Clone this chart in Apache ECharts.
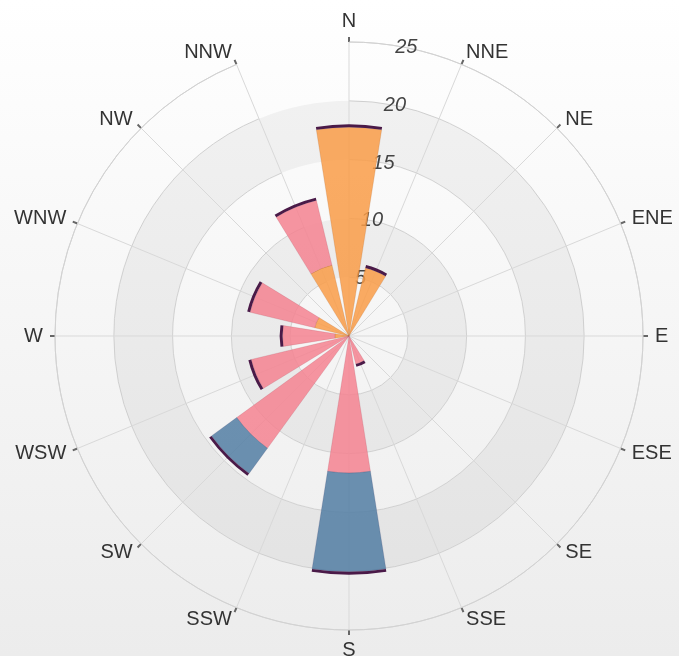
<!DOCTYPE html>
<html>
<head>
<meta charset="utf-8">
<script src="https://cdn.jsdelivr.net/npm/echarts@6/dist/echarts.min.js"></script>
<style>
html,body{margin:0;padding:0;}
#chart{width:679px;height:656px;}
</style>
</head>
<body>
<div id="chart"></div>
<script>
const directions = ['N','NNE','NE','ENE','E','ESE','SE','SSE','S','SSW','SW','WSW','W','WNW','NW','NNW'];
const orangeValues = [17.75, 5.95, 0, 0, 0, 0, 0, 0, 0, 0, 0, 0, 1.2, 3.0, 0, 6.2];
const pinkValues   = [0, 0, 0, 0, 0, 0, 0, 2.45, 11.65, 0, 11.8, 8.55, 4.45, 5.65, 0, 5.65];
const blueValues   = [0, 0, 0, 0, 0, 0, 0, 0, 8.4, 0, 2.65, 0, 0, 0, 0, 0];
const capValues    = [0.25, 0.25, 0, 0, 0, 0, 0, 0.25, 0.25, 0, 0.25, 0.25, 0.25, 0.25, 0, 0.25];
const radiusTicks  = [0, 5, 10, 15, 20, 25];

const toData = arr => arr.map(v => v === 0 ? '-' : v);
// N and S keep a line box; the others are centred on their anchor point
const categoryData = directions.map(d =>
  d === 'N' ? {value: d, textStyle: {lineHeight: 18}} :
  d === 'S' ? {value: d, textStyle: {lineHeight: 16}} : d);

const chart = echarts.init(document.getElementById('chart'));
const barBase = {
  type: 'bar',
  coordinateSystem: 'polar',
  polarIndex: 0,
  stack: 'wind',
  barCategoryGap: '20%',
  z: 3
};
const option = {
  backgroundColor: {
    type: 'linear', x: 0, y: 0, x2: 0, y2: 1,
    colorStops: [{offset: 0, color: '#ffffff'}, {offset: 1, color: '#ececec'}]
  },
  animation: false,
  polar: [
    {center: [349, 336], radius: 294},
    {center: [349, 336], radius: 294}
  ],
  angleAxis: [
    {
      polarIndex: 0,
      type: 'category',
      data: categoryData,
      boundaryGap: false,
      startAngle: 90,
      clockwise: true,
      axisLine: {lineStyle: {color: '#d2d2d2', width: 1}},
      axisTick: {show: true, length: 5, lineStyle: {color: '#666666', width: 2}},
      axisLabel: {
        margin: 12, fontSize: 20, color: '#333333', lineHeight: 1,
        fontFamily: '"Liberation Sans", Arial, sans-serif'
      },
      splitLine: {show: true, lineStyle: {color: '#d9d9d9', width: 1}},
      z: 1
    },
    {
      polarIndex: 1,
      type: 'value',
      min: 0, max: 360,
      startAngle: 78.75,
      show: false
    }
  ],
  radiusAxis: [
    {
      polarIndex: 0,
      type: 'value',
      min: 0, max: 25, interval: 5,
      axisLine: {show: false},
      axisTick: {show: false},
      axisLabel: {show: false},
      splitLine: {show: true, lineStyle: {color: '#d6d6d6', width: 1}},
      splitArea: {show: true, areaStyle: {color: ['rgba(0,0,0,0)', 'rgba(0,0,0,0.045)']}},
      z: 1
    },
    {
      polarIndex: 1,
      type: 'value',
      min: 0, max: 25, interval: 5,
      axisLine: {show: false},
      axisTick: {show: false},
      splitLine: {show: false},
      splitArea: {show: false},
      axisLabel: {
        margin: 0, align: 'center', verticalAlign: 'middle',
        fontStyle: 'italic', fontSize: 20, color: '#444444',
        fontFamily: '"Liberation Sans", Arial, sans-serif',
        formatter: v => (radiusTicks.indexOf(v) > 0 ? String(v) : '')
      },
      z: 2
    }
  ],
  series: [
    Object.assign({}, barBase, {
      name: 'orange', data: toData(orangeValues),
      itemStyle: {color: '#f99c48', opacity: 0.85, borderColor: 'rgba(160,80,20,0.35)', borderWidth: 0.6}
    }),
    Object.assign({}, barBase, {
      name: 'pink', data: toData(pinkValues),
      itemStyle: {color: '#f48390', opacity: 0.85, borderColor: 'rgba(150,40,60,0.3)', borderWidth: 0.6}
    }),
    Object.assign({}, barBase, {
      name: 'blue', data: toData(blueValues),
      itemStyle: {color: '#527ea3', opacity: 0.85, borderColor: 'rgba(40,40,90,0.35)', borderWidth: 0.6}
    }),
    Object.assign({}, barBase, {
      name: 'cap', data: toData(capValues),
      itemStyle: {color: '#4a1a48', opacity: 1}
    })
  ]
};
chart.setOption(option);
</script>
</body>
</html>
